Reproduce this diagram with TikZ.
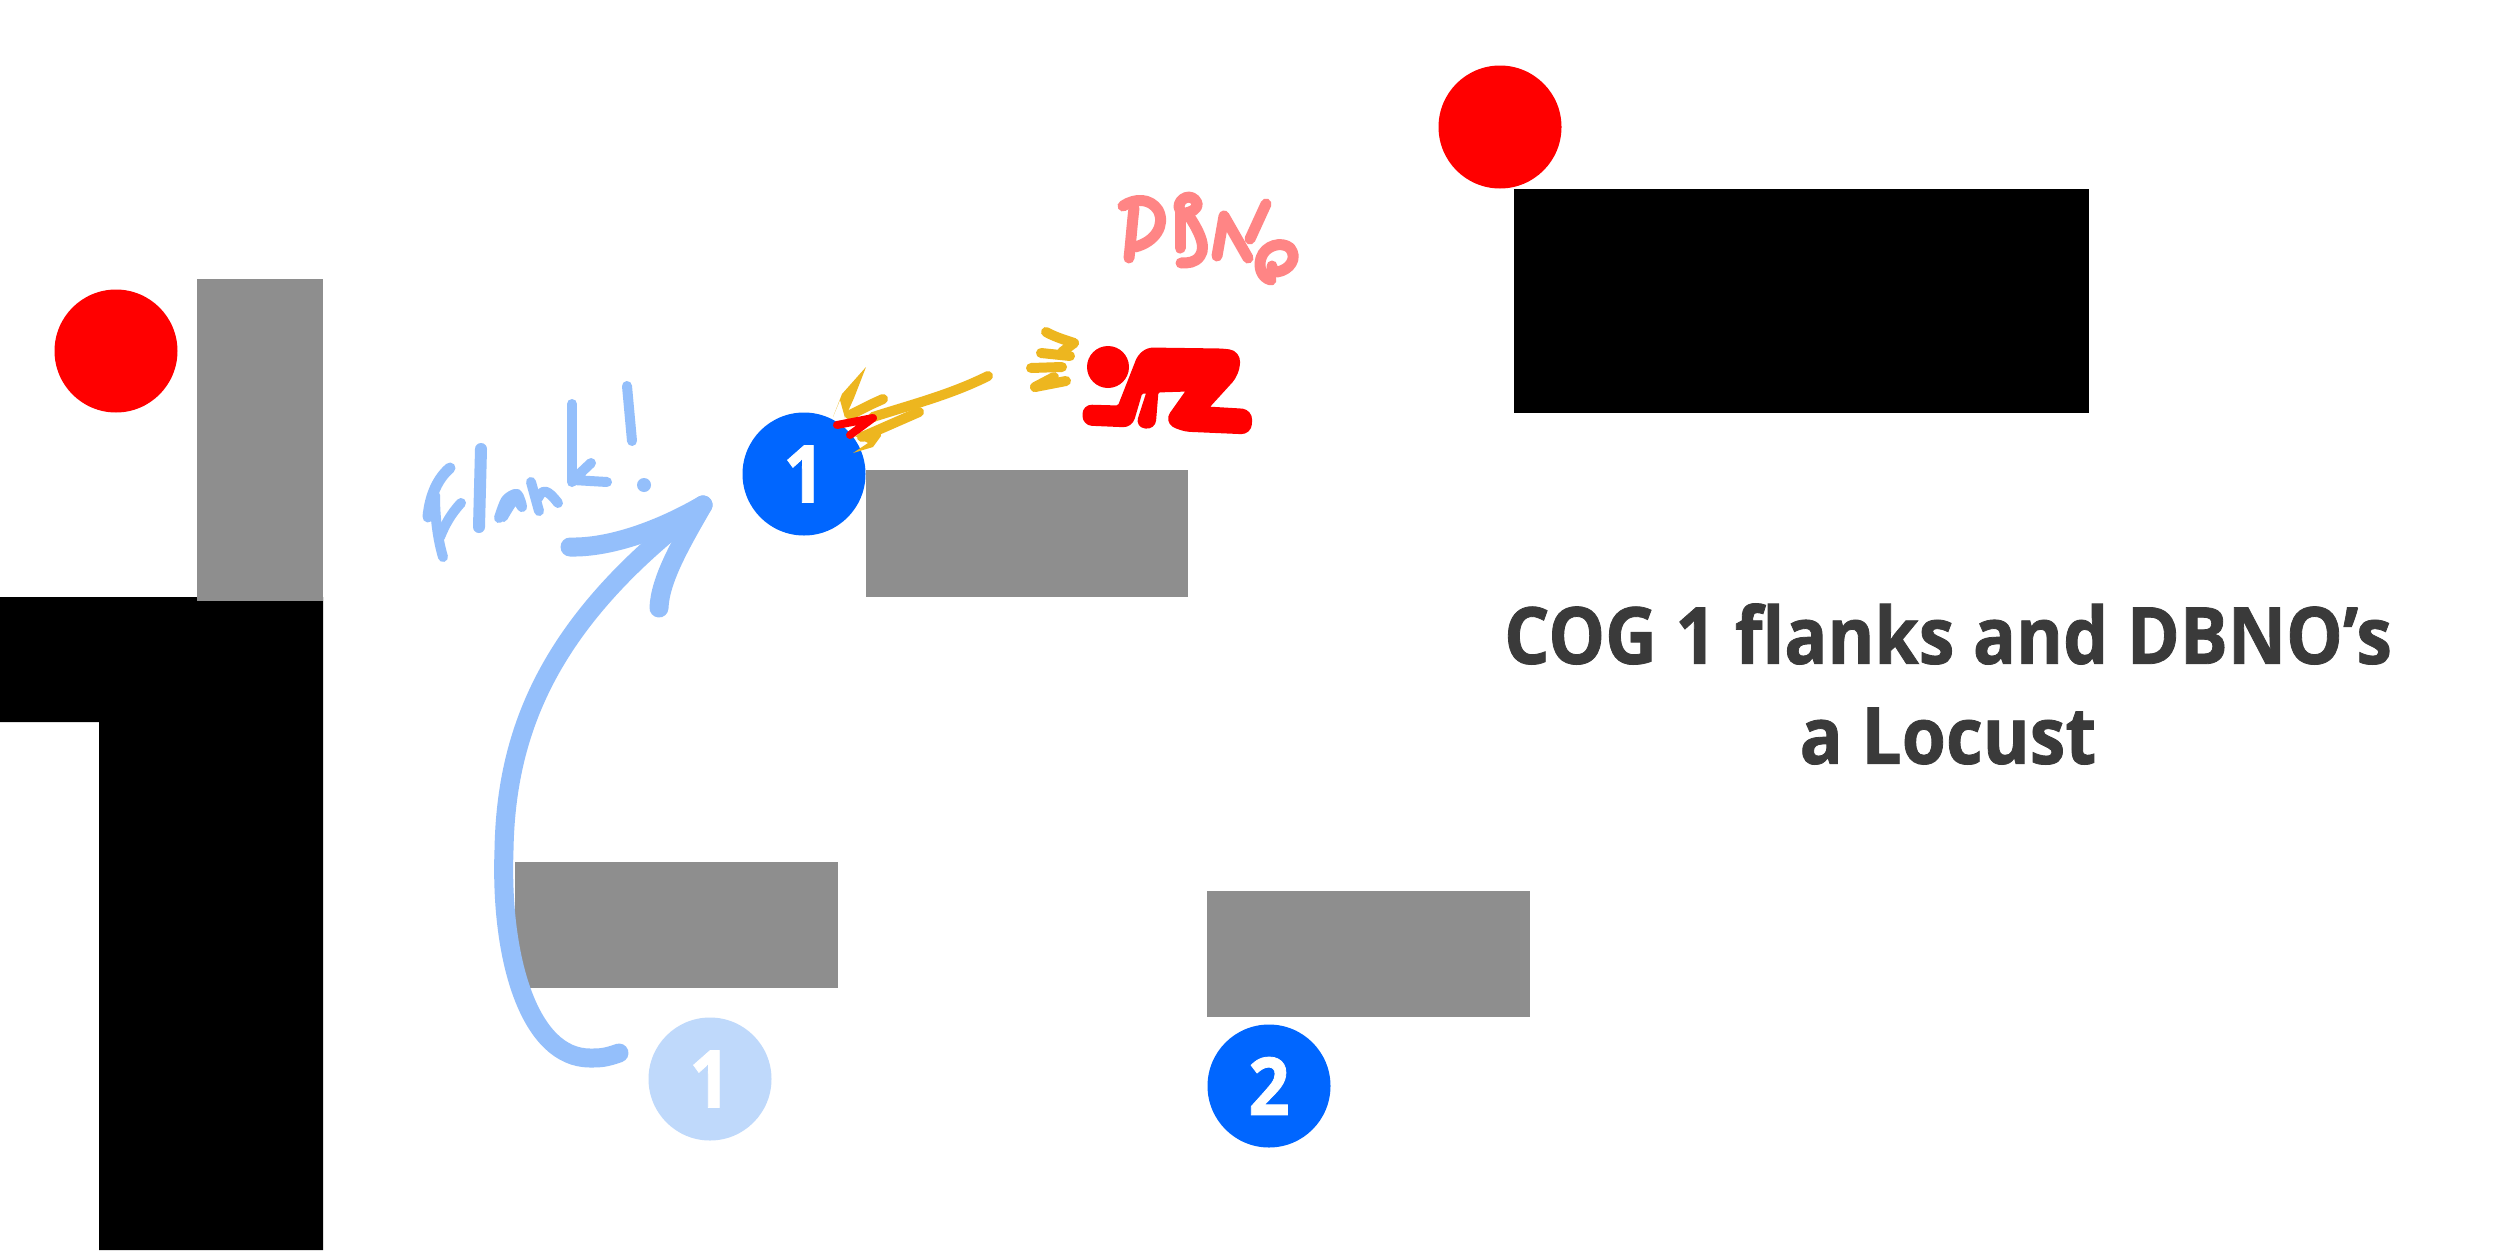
\documentclass[tikz,border=0pt]{standalone}
\usepackage{fontspec}
\setmainfont{Open Sans}
\newfontfamily\titlefont[BoldFeatures={FakeStretch=0.905,FakeBold=1}]{Open Sans}
\definecolor{wallgray}{HTML}{8E8E8E}
\definecolor{cogblue}{HTML}{0066FF}
\definecolor{ghostblue}{HTML}{BFD9FB}
\definecolor{flankblue}{HTML}{94BFFB}
\definecolor{shotyellow}{HTML}{EDB61F}
\definecolor{dbnopink}{HTML}{FF8585}
\definecolor{titlegray}{HTML}{3A3A3A}
\tikzset{
  cover/.style={draw=none,inner sep=0pt,outer sep=0pt,anchor=north west},
  graywall/.style={cover,fill=wallgray},
  locust/.style={circle,fill=red,draw=none,inner sep=0pt,minimum size=123pt},
  cog/.style={circle,fill=cogblue,draw=none,inner sep=0pt,minimum size=123pt,text=white,font=\titlefont\bfseries\fontsize{80}{80}\selectfont},
  ghost/.style={cog,fill=ghostblue},
  pen/.style={line cap=round,line join=round,draw},
  flankpen/.style={pen,draw=flankblue,line width=19pt},
  flanktext/.style={pen,draw=flankblue,line width=10pt},
  shot/.style={pen,draw=shotyellow,line width=10pt},
  dbnopen/.style={pen,draw=dbnopink,line width=11pt},
}
\begin{document}
\begin{tikzpicture}[x=1pt,y=-1pt]
\useasboundingbox (0,0) rectangle (2500,1250);
\fill[white] (0,0) rectangle (2500,1250);
% black walls
\fill[black] (0,597) -- (323,597) -- (323,1250) -- (99,1250) -- (99,722) -- (0,722) -- cycle;
\node[cover,fill=black,minimum width=575pt,minimum height=224pt] (blackroom) at (1514,189) {};
% gray cover
\node[graywall,minimum width=126pt,minimum height=322pt] (coverA) at (197,279) {};
\node[graywall,minimum width=322pt,minimum height=127pt] (coverB) at (866,470) {};
\node[graywall,minimum width=323pt,minimum height=126pt] (coverC) at (515,862) {};
\node[graywall,minimum width=323pt,minimum height=126pt] (coverD) at (1207,891) {};
% circles
\node[locust] (redA) at (116,351) {};
\node[locust] (redB) at (1500,127) {};
\node[cog] (cogone) at (804,474) {1};
\node[ghost] (cogghost) at (710,1079) {1};
\node[cog] (cogtwo) at (1269,1086) {2};
% title
\node[text=titlegray,font=\titlefont\bfseries\fontsize{79}{100}\selectfont,align=center,inner sep=0pt] (title) at (1948,684) {COG 1 flanks and DBNO’s\\a Locust};
% flank arrow
\coordinate (flankstart) at (619,1053);
\coordinate (flankend) at (703,505);
\draw[flankpen] (flankstart) .. controls (605,1058) and (600,1058) .. (590,1058) .. controls (530,1058) and (500,960) .. (504,850) .. controls (506,730) and (550,620) .. (flankend);
\draw[flankpen] (570,547) .. controls (610,548) and (660,530) .. (flankend);
\draw[flankpen] (659,608) .. controls (660,580) and (680,545) .. (flankend);
% Flank!
\draw[flanktext,line width=11pt] (450,468) .. controls (438,478) and (430,495) .. (428,517);
\draw[flanktext] (435,495) .. controls (435,520) and (438,540) .. (443,557);
\draw[flanktext] (461,503) .. controls (450,515) and (445,525) .. (440,537);
\draw[flanktext,line width=12pt] (481,449) -- (479,527);
\draw[flanktext] plot[smooth] coordinates {(499,518) (506,500) (517,494) (522,507) (515,499) (503,517)};
\draw[flanktext] (531,482) -- (539,511);
\draw[flanktext] (538,498) .. controls (543,488) and (548,490) .. (558,503);
\draw[flanktext] (572,404) -- (572,482);
\draw[flanktext] (591,463) -- (573,480) -- (607,482);
\draw[flanktext] (627,386) -- (632,441);
\fill[flankblue] (644,485) circle (7);
% downed locust
\node[circle,fill=red,draw=none,inner sep=0pt,minimum size=42pt] (head) at (1108,367) {};
\filldraw[fill=red,draw=red,line width=3pt,line join=round,rounded corners=5pt] (1119,407) -- (1139,356) -- (1148,349) -- (1222,350) [rounded corners=10pt] -- (1239,352) -- (1238,374) [rounded corners=2pt] -- (1207,408) [rounded corners=2pt] -- (1241,410) [rounded corners=9pt] -- (1251,411) -- (1250,433) -- (1181,430) -- (1166,421) [rounded corners=2pt] -- (1188,390) -- (1157,391) [rounded corners=8pt] -- (1154,428) -- (1137,426) [rounded corners=2pt] -- (1148,392) -- (1141,392) [rounded corners=8pt] -- (1131,426) -- (1084,424) -- (1084,406) [rounded corners=2pt] -- cycle;
% shot lines near locust
\draw[shot] (1046,332) .. controls (1055,337) and (1065,340) .. (1074,343);
\draw[shot] (1074,343) -- (1062,352);
\draw[shot] (1041,353) -- (1070,356);
\draw[shot] (1031,368) -- (1062,367);
\draw[shot] (1035,387) -- (1054,377);
\draw[shot] (1035,387) -- (1066,381);
% shot lines at COG
\fill[shotyellow] (866,367) -- (854,398) -- (845,418) -- (840,400) -- (833,417) -- (842,394) -- cycle;
\draw[shot] (988,376) .. controls (950,395) and (910,405) .. (873,417);
\draw[shot] (919,412) -- (862,437);
\draw[shot] (883,399) -- (872,404) -- (850,415);
\fill[shotyellow] (855,436) -- (880,428) -- (881,436) -- (873,447) -- (853,453) -- (868,443) -- cycle;
\draw[pen,draw=red,line width=8pt] (837,425) -- (873,418) -- (850,435);
% DBNO
\draw[dbnopen] (1123,206) .. controls (1135,198) and (1150,198) .. (1158,210) .. controls (1166,225) and (1155,242) .. (1135,247);
\draw[dbnopen] (1134,208) .. controls (1132,225) and (1131,240) .. (1129,258);
\draw[dbnopen] (1179,208) .. controls (1178,198) and (1192,192) .. (1197,203) .. controls (1198,210) and (1190,212) .. (1186,213);
\draw[dbnopen] (1180,210) -- (1180,248);
\draw[dbnopen] (1187,213) .. controls (1195,225) and (1208,245) .. (1200,256) .. controls (1195,263) and (1188,263) .. (1181,263);
\draw[dbnopen] (1217,256) -- (1224,216) -- (1248,258);
\draw[dbnopen] (1266,204) -- (1250,239);
\draw[dbnopen] (1272,266) .. controls (1272,272) and (1272,270) .. (1277,272) .. controls (1290,270) and (1298,258) .. (1290,248) .. controls (1282,241) and (1265,245) .. (1261,258) .. controls (1258,268) and (1262,278) .. (1271,280);
\end{tikzpicture}
\end{document}
